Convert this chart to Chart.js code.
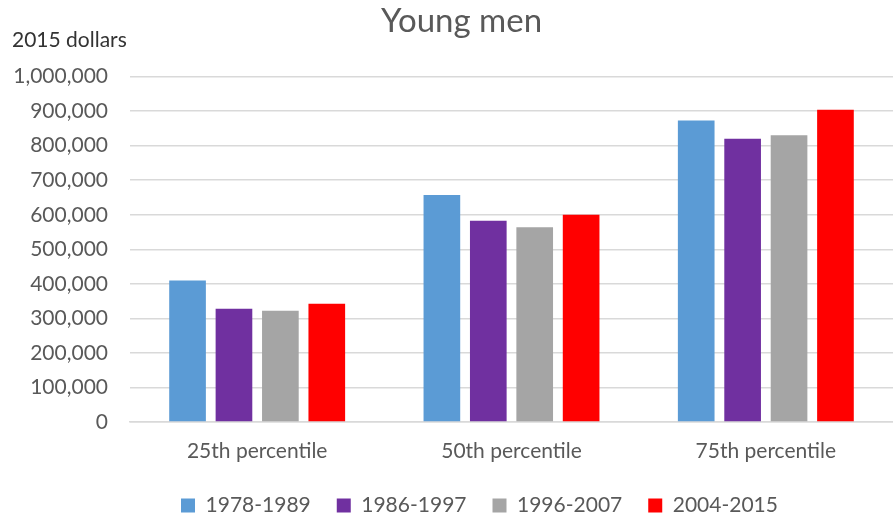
<!DOCTYPE html>
<html lang="en">
<head>
  <meta charset="UTF-8">
  <title>Young men</title>
  <script src="https://cdn.jsdelivr.net/npm/chart.js"></script>
  <style>
    html, body { margin: 0; padding: 0; background: #fff; }
    #wrap { width: 893px; height: 514px; }
  </style>
</head>
<body>
  <div id="wrap"><canvas id="chart"></canvas></div>

  <script>
    const categories = ['25th percentile', '50th percentile', '75th percentile'];
    const seriesNames = ['1978-1989', '1986-1997', '1996-2007', '2004-2015'];
    const seriesColors = ['#5B9BD5', '#7030A0', '#A5A5A5', '#FF0000'];
    const values1978 = [410000, 657000, 873000];
    const values1986 = [328000, 583000, 820000];
    const values1996 = [322000, 564000, 830000];
    const values2004 = [342000, 600000, 904000];
    const allValues = [values1978, values1986, values1996, values2004];

    const fontFamily = 'Lato, "Open Sans", sans-serif';

    // unit label above the value axis, plus small nudges for title and legend
    const extras = {
      id: 'extras',
      beforeDraw(chart) {
        if (!chart.$nudged) {
          chart.legend.left += 33; chart.legend.right += 33;
          chart.titleBlock.left += 15; chart.titleBlock.right += 15;
          chart.$nudged = true;
        }
      },
      afterDraw(chart) {
        const c = chart.ctx;
        c.save();
        c.font = '21px ' + fontFamily;
        c.fillStyle = '#333333';
        c.textBaseline = 'middle';
        c.textAlign = 'left';
        c.fillText('2015 dollars', 12, 40);
        c.restore();
      }
    };

    new Chart(document.getElementById('chart'), {
      type: 'bar',
      data: {
        labels: categories,
        datasets: seriesNames.map((name, i) => ({
          label: name,
          data: allValues[i],
          backgroundColor: seriesColors[i],
          borderWidth: 0,
          categoryPercentage: 0.73,
          barPercentage: 0.79
        }))
      },
      options: {
        responsive: true,
        maintainAspectRatio: false,
        animation: false,
        layout: { padding: { left: 0, right: 0, top: 2, bottom: -12 } },
        plugins: {
          title: {
            display: true,
            text: 'Young men',
            color: '#595959',
            font: { family: fontFamily, size: 33, weight: 'normal' },
            padding: { top: 0, bottom: 35 }
          },
          legend: {
            position: 'bottom',
            labels: {
              color: '#595959',
              font: { family: fontFamily, size: 21 },
              boxWidth: 14,
              boxHeight: 14,
              padding: 26
            }
          },
          tooltip: { enabled: false }
        },
        scales: {
          x: {
            afterFit: scale => { scale.height = 47; },
            grid: { display: false, drawTicks: false },
            border: { color: '#D9D9D9', width: 1.5 },
            ticks: {
              color: '#595959',
              font: { family: fontFamily, size: 21 },
              padding: 17
            }
          },
          y: {
            min: 0,
            max: 1000000,
            afterFit: scale => { scale.width = 130; },
            ticks: {
              stepSize: 100000,
              color: '#595959',
              font: { family: fontFamily, size: 21 },
              padding: 22,
              callback: v => v.toLocaleString('en-US')
            },
            grid: { color: '#D9D9D9', lineWidth: 1.5, drawTicks: false },
            border: { display: false }
          }
        }
      },
      plugins: [extras]
    });
  </script>
</body>
</html>
